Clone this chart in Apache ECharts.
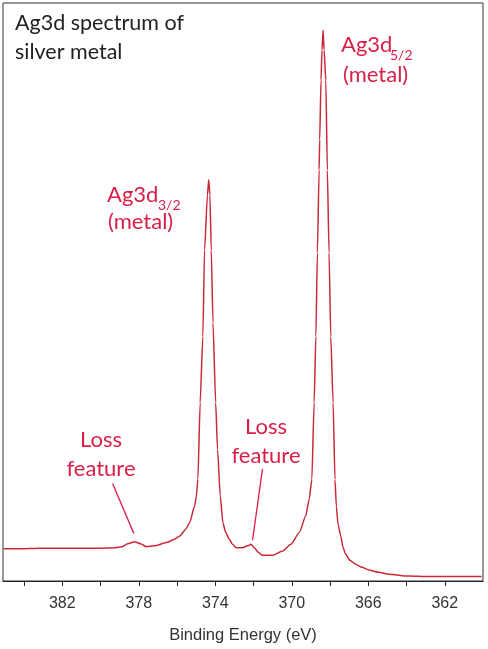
<!DOCTYPE html>
<html>
<head>
<meta charset="utf-8">
<script src="https://cdn.jsdelivr.net/npm/echarts@6/dist/echarts.min.js"></script>
<style>
html,body{margin:0;padding:0;background:#fff;}
#c{width:488px;height:649px;}
</style>
</head>
<body>
<div id="c"></div>
<script>
// Binding energy (eV) and intensity (arbitrary units, 0-100 scale)
const energy = [385.08,384.2,383.16,382.11,381.07,380.03,379.25,378.89,378.58,378.21,377.90,377.60,377.17,376.56,376.13,375.86,375.55,375.34,375.08,374.99,374.91,374.79,374.65,374.56,374.41,374.34,374.28,374.21,374.12,373.98,373.88,373.74,373.60,373.46,373.26,373.10,372.91,372.57,372.32,372.13,371.96,371.75,371.53,371.00,370.48,370.05,369.61,369.27,369.09,368.95,368.83,368.74,368.66,368.57,368.54,368.47,368.42,368.36,368.31,368.22,368.14,368.05,367.96,367.84,367.74,367.67,367.58,367.44,367.32,367.18,366.96,366.66,366.33,365.97,365.45,364.93,363.89,362.84,361.80,360.07];
const intensity = [5.56,5.56,5.65,5.65,5.65,5.65,5.74,5.91,6.43,6.81,6.43,5.94,6.08,6.64,7.21,7.78,8.93,10.09,12.96,14.69,17.56,30.88,42.34,57.32,66.8,69.42,66.8,57.32,44.70,30.88,22.76,14.69,10.09,8.42,7.21,6.34,5.77,5.77,6.08,6.34,5.77,4.96,4.44,4.44,5.18,6.34,8.36,11.23,14.12,17.57,30.88,42.34,56.80,71.14,76.33,86.69,91.87,95.33,91.87,86.69,71.14,56.80,42.28,30.88,17.57,12.96,9.80,7.78,5.82,4.61,3.58,2.89,2.37,1.90,1.50,1.16,0.86,0.76,0.76,0.76];
const tickLabels = [382,378,374,370,366,362];
// leader lines for "Loss feature" annotations [energy, intensity]
const leader1 = [[379.37,16.88],[378.26,8.24]];
const leader2 = [[371.53,19.42],[372.05,7.08]];

const RED = '#d91e48';
const LINE = '#c92a3a';
const FONT = 'Lato';

const chart = echarts.init(document.getElementById('c'), null, {renderer:'canvas'});

function txt(x, y, s, size, color, align, va){
  return {type:'text', x:x, y:y, silent:true,
    style:{text:s, fontFamily:FONT, fontSize:size, fill:color, align:align||'left', verticalAlign:va||'middle'}};
}

const option = {
  animation:false,
  backgroundColor:'#fff',
  grid:{left:3, right:5, top:3, bottom:67, show:true, borderColor:'#333', borderWidth:1, backgroundColor:'transparent'},
  xAxis:{
    type:'value', inverse:true, min:360, max:385.1, interval:2,
    axisLine:{show:true, onZero:false, lineStyle:{color:'#222', width:1}},
    axisTick:{show:true, inside:false, length:5, lineStyle:{color:'#222'}},
    splitLine:{show:false},
    axisLabel:{margin:15, color:'#333', fontFamily:'Liberation Sans', fontSize:16,
      formatter:function(v){ return tickLabels.indexOf(Math.round(v))>=0 && Math.abs(v-Math.round(v))<1e-6 ? String(Math.round(v)) : ''; },
      showMinLabel:false, showMaxLabel:false},
    name:'Binding Energy (eV)', nameLocation:'middle', nameGap:46,
    nameTextStyle:{color:'#333', fontFamily:'Liberation Sans', fontSize:16.5}
  },
  yAxis:{type:'value', min:0, max:100, show:false},
  series:[{
    type:'line', symbol:'none', smooth:0.2, smoothMonotone:'x',
    data: energy.map((e,i)=>[e,intensity[i]]),
    lineStyle:{color:LINE, width:1.5},
    markLine:{silent:true, symbol:['none','none'], label:{show:false},
      lineStyle:{color:RED, width:1.3, type:'solid'},
      data:[
        [{coord:leader1[0]},{coord:leader1[1]}],
        [{coord:leader2[0]},{coord:leader2[1]}]
      ]}
  }],
  graphic:[
    txt(15, 23, 'Ag3d spectrum of', 21.5, '#222'),
    txt(15, 52, 'silver metal', 21.5, '#222'),
    txt(341, 44.5, 'Ag3d', 22, RED),
    txt(390, 55, '5/2', 14, RED),
    txt(343, 75, '(metal)', 22, RED),
    txt(107, 195, 'Ag3d', 22, RED),
    txt(158, 205.5, '3/2', 14, RED),
    txt(108, 222, '(metal)', 22, RED),
    txt(101, 440, 'Loss', 22, RED, 'center'),
    txt(101, 469, 'feature', 22, RED, 'center'),
    txt(266, 427, 'Loss', 22, RED, 'center'),
    txt(266, 456, 'feature', 22, RED, 'center')
  ]
};
chart.setOption(option);
</script>
</body>
</html>
